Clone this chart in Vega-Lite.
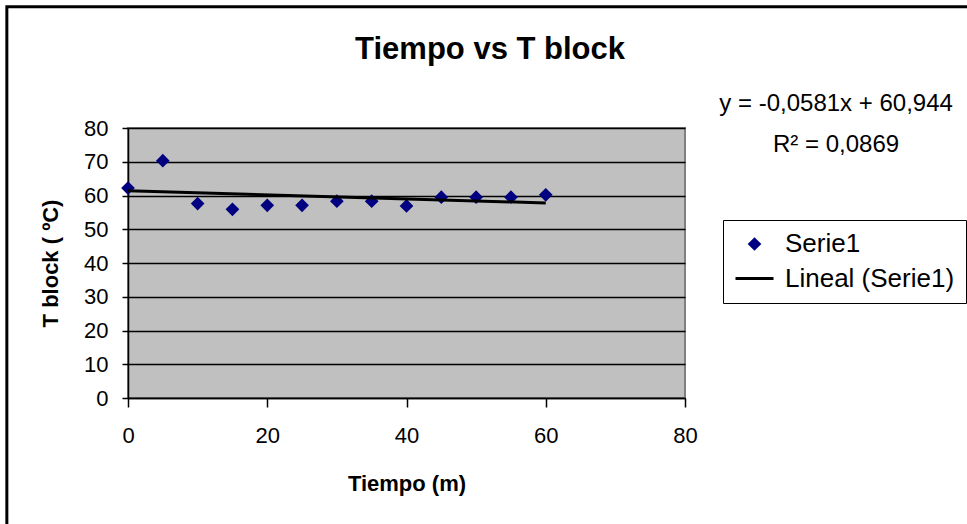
{
  "$schema": "https://vega.github.io/schema/vega-lite/v6.json",
  "width": 557,
  "height": 270,
  "autosize": {"type": "none"},
  "padding": {"left": 128, "top": 128, "right": 282, "bottom": 126},
  "background": "white",
  "title": {"text": "Tiempo vs T block", "fontSize": 31, "font": "Liberation Sans", "fontWeight": "bold", "anchor": "middle", "frame": "bounds", "offset": -61, "color": "black"},
  "config": {
    "font": "Liberation Sans",
    "view": {"fill": "#C0C0C0", "stroke": "#808080", "strokeWidth": 2}
  },
  "datasets": {
    "points": [
      {"t": 0, "T": 62.2, "series": "Serie1"},
      {"t": 5, "T": 70.3, "series": "Serie1"},
      {"t": 10, "T": 57.6, "series": "Serie1"},
      {"t": 15, "T": 55.9, "series": "Serie1"},
      {"t": 20, "T": 57.1, "series": "Serie1"},
      {"t": 25, "T": 57.1, "series": "Serie1"},
      {"t": 30, "T": 58.3, "series": "Serie1"},
      {"t": 35, "T": 58.3, "series": "Serie1"},
      {"t": 40, "T": 56.9, "series": "Serie1"},
      {"t": 45, "T": 59.5, "series": "Serie1"},
      {"t": 50, "T": 59.5, "series": "Serie1"},
      {"t": 55, "T": 59.5, "series": "Serie1"},
      {"t": 60, "T": 60.2, "series": "Serie1"}
    ],
    "trend": [
      {"t": 0, "T": 61.4, "series": "Lineal (Serie1)"},
      {"t": 60, "T": 57.8, "series": "Lineal (Serie1)"}
    ],
    "notes": [
      {"line1": "y = -0,0581x + 60,944", "line2": "R² = 0,0869"}
    ]
  },
  "layer": [
    {
      "data": {"name": "points"},
      "mark": {"type": "point", "filled": true, "stroke": "#000080", "strokeWidth": 3, "opacity": 1},
      "encoding": {
        "x": {
          "field": "t", "type": "quantitative",
          "scale": {"domain": [0, 80], "nice": false},
          "axis": {
            "values": [0, 20, 40, 60, 80], "tickCount": 10, "grid": false, "labelFlush": false,
            "title": "Tiempo (m)", "titleFontSize": 22, "titleFontWeight": "bold", "titleColor": "black", "titlePadding": 27,
            "labelFontSize": 22, "labelColor": "black", "labelPadding": 18,
            "tickSize": 9, "tickColor": "black", "tickWidth": 1.5,
            "domainColor": "black", "domainWidth": 1.5
          }
        },
        "y": {
          "field": "T", "type": "quantitative",
          "scale": {"domain": [0, 80], "nice": false},
          "axis": {
            "values": [0, 10, 20, 30, 40, 50, 60, 70, 80],
            "tickCount": 10,
            "labelOverlap": false, "labelFlush": false,
            "grid": true, "gridColor": "black", "gridWidth": 1.5, "gridOpacity": 1,
            "title": "T block ( ºC)", "titleFontSize": 22, "titleFontWeight": "bold", "titleColor": "black", "titlePadding": 21,
            "labelFontSize": 22, "labelColor": "black", "labelPadding": 14,
            "tickSize": 6, "tickColor": "black", "tickWidth": 1.5,
            "domainColor": "black", "domainWidth": 1.5
          }
        },
        "shape": {
          "field": "series", "type": "nominal",
          "scale": {"domain": ["Serie1", "Lineal (Serie1)"], "range": ["diamond", "stroke"]}
        },
        "size": {
          "field": "series", "type": "nominal",
          "scale": {"domain": ["Serie1", "Lineal (Serie1)"], "range": [90, 1444]}
        },
        "color": {
          "field": "series", "type": "nominal",
          "scale": {"domain": ["Serie1", "Lineal (Serie1)"], "range": ["#000080", "black"]},
          "legend": {
            "orient": "none", "legendX": 595, "legendY": 92,
            "title": null,
            "strokeColor": "black", "fillColor": "white",
            "padding": 11,
            "labelFontSize": 26, "labelColor": "black", "labelFont": "Liberation Sans", "labelOffset": 10, "labelLimit": 400,
            "rowPadding": 1,
            "symbolStrokeWidth": 3
          }
        }
      }
    },
    {
      "data": {"name": "trend"},
      "mark": {"type": "line", "strokeWidth": 3},
      "encoding": {
        "x": {"field": "t", "type": "quantitative"},
        "y": {
          "field": "T", "type": "quantitative",
          "axis": {
            "values": [0, 10, 20, 30, 40, 50, 60, 70, 80],
            "tickCount": 10,
            "labelOverlap": false, "labelFlush": false,
            "grid": true, "gridColor": "black", "gridWidth": 1.5, "gridOpacity": 1,
            "title": "T block ( ºC)", "titleFontSize": 22, "titleFontWeight": "bold", "titleColor": "black", "titlePadding": 21,
            "labelFontSize": 22, "labelColor": "black", "labelPadding": 14,
            "tickSize": 6, "tickColor": "black", "tickWidth": 1.5,
            "domainColor": "black", "domainWidth": 1.5
          }
        },
        "color": {"field": "series", "type": "nominal"}
      }
    },
    {
      "data": {"name": "notes"},
      "mark": {"type": "text", "fontSize": 24, "font": "Liberation Sans", "color": "black", "align": "center", "baseline": "middle", "clip": false},
      "encoding": {
        "x": {"datum": 101.7, "type": "quantitative"},
        "y": {"datum": 87.1, "type": "quantitative"},
        "text": {"field": "line1"}
      }
    },
    {
      "data": {"name": "notes"},
      "mark": {"type": "text", "fontSize": 24, "font": "Liberation Sans", "color": "black", "align": "center", "baseline": "middle", "clip": false},
      "encoding": {
        "x": {"datum": 101.7, "type": "quantitative"},
        "y": {"datum": 75.0, "type": "quantitative"},
        "text": {"field": "line2"}
      }
    },
    {
      "data": {"name": "notes"},
      "mark": {"type": "rect", "fill": null, "filled": false, "stroke": "black", "strokeWidth": 3, "clip": false},
      "encoding": {
        "x": {"datum": -17.4, "type": "quantitative"},
        "x2": {"datum": 121.4},
        "y": {"datum": 115.9, "type": "quantitative"},
        "y2": {"datum": -45}
      }
    }
  ]
}
